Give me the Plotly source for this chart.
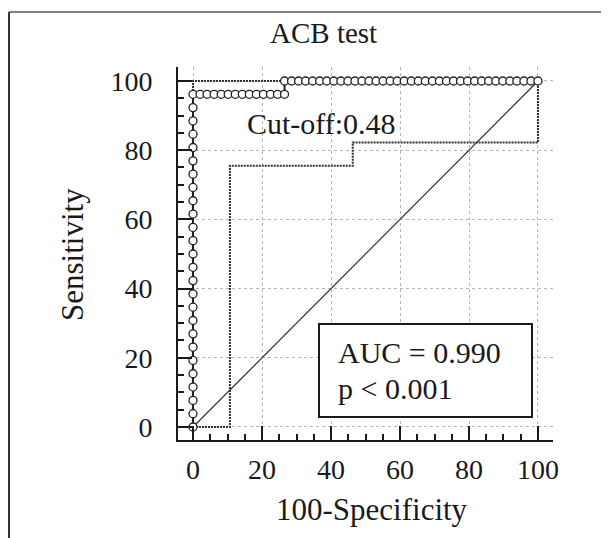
import plotly.graph_objects as go

# ---------------- data ----------------
roc_fpr = [0, 0, 0, 0, 0, 0, 0, 0, 0, 0, 0, 0, 0, 0, 0, 0, 0, 0, 0, 0, 0, 0, 0, 0, 0, 0,
           2.04, 4.08, 6.12, 8.16, 10.20, 12.24, 14.29, 16.33, 18.37, 20.41, 22.45, 24.49, 26.53,
           26.53, 28.57, 30.61, 32.65, 34.69, 36.73, 38.78, 40.82, 42.86, 44.90, 46.94, 48.98,
           51.02, 53.06, 55.10, 57.14, 59.18, 61.22, 63.27, 65.31, 67.35, 69.39, 71.43, 73.47,
           75.51, 77.55, 79.59, 81.63, 83.67, 85.71, 87.76, 89.80, 91.84, 93.88, 95.92, 97.96, 100]
roc_tpr = [0, 3.85, 7.69, 11.54, 15.38, 19.23, 23.08, 26.92, 30.77, 34.62, 38.46, 42.31, 46.15,
           50.00, 53.85, 57.69, 61.54, 65.38, 69.23, 73.08, 76.92, 80.77, 84.62, 88.46, 92.31, 96.15,
           96.15, 96.15, 96.15, 96.15, 96.15, 96.15, 96.15, 96.15, 96.15, 96.15, 96.15, 96.15, 96.15,
           100, 100, 100, 100, 100, 100, 100, 100, 100, 100, 100, 100, 100,
           100, 100, 100, 100, 100, 100, 100, 100, 100, 100, 100, 100,
           100, 100, 100, 100, 100, 100, 100, 100, 100, 100, 100, 100]
ci_lo_x = [0, 10.7, 10.7, 46.3, 46.3, 100, 100]
ci_lo_y = [0, 0, 75.5, 75.5, 82.2, 82.2, 100]
ci_hi_x = [0, 0, 100]
ci_hi_y = [0, 100, 100]
diag_x = [0, 100]
diag_y = [0, 100]
tick_vals = [0, 20, 40, 60, 80, 100]
tick_text = ["0", "20", "40", "60", "80", "100"]

title_text = "ACB test"
x_title = "100-Specificity"
y_title = "Sensitivity"
cutoff_text = "Cut-off:0.48"
auc_text = "AUC = 0.990"
p_text = "p < 0.001"

# ---------------- layout helpers ----------------
OFF = 8  # default page margin of the html body
L, R, T, B = 178 - OFF, 553 - OFF, 67 - OFF, 440 - OFF
W, H = 609 - OFF, 538 - OFF
def px(x):
    return (x - OFF - L) / (R - L)
def py(y):
    return (B - (y - OFF)) / (B - T)

FONT = "Liberation Serif"
INK = "#1a1a1a"

fig = go.Figure()
fig.add_trace(go.Scatter(x=diag_x, y=diag_y, mode="lines",
                         line=dict(color="#333333", width=1.2), hoverinfo="skip"))
fig.add_trace(go.Scatter(x=ci_lo_x, y=ci_lo_y, mode="lines",
                         line=dict(color="#333333", width=2, dash="2px,1px"), hoverinfo="skip"))
fig.add_trace(go.Scatter(x=ci_hi_x, y=ci_hi_y, mode="lines",
                         line=dict(color="#333333", width=2, dash="2px,1px"), hoverinfo="skip"))
fig.add_trace(go.Scatter(x=roc_fpr, y=roc_tpr, mode="lines+markers",
                         line=dict(color="#222222", width=2),
                         marker=dict(symbol="circle", size=8, color="white",
                                     line=dict(color="#222222", width=1.3))))

axis_common = dict(
    showline=True, linecolor=INK, linewidth=2,
    ticks="inside", ticklen=14, tickwidth=2, tickcolor=INK,
    tickvals=tick_vals, ticktext=tick_text,
    showgrid=True, gridcolor="#b5b5b5", gridwidth=1, griddash="dot",
    zeroline=False,
    tickfont=dict(family=FONT, size=28, color=INK),
    minor=dict(dtick=5, tick0=0, ticks="inside", ticklen=6, tickwidth=1.5,
               tickcolor=INK, showgrid=False),
    fixedrange=True,
)
fig.update_xaxes(range=[-4.35, 104.35], ticklabelstandoff=3, **axis_common)
fig.update_yaxes(range=[-3.76, 104.04], ticklabelstandoff=18, **axis_common)

ann = []
ann.append(dict(text=title_text, x=px(323), y=py(33), xref="paper", yref="paper",
                xanchor="center", yanchor="middle", showarrow=False,
                font=dict(family=FONT, size=29, color=INK)))
ann.append(dict(text=x_title, x=px(372), y=py(510), xref="paper", yref="paper",
                xanchor="center", yanchor="middle", showarrow=False,
                font=dict(family=FONT, size=31, color=INK)))
ann.append(dict(text=y_title, x=px(72), y=py(255), xref="paper", yref="paper",
                xanchor="center", yanchor="middle", showarrow=False, textangle=-90,
                font=dict(family=FONT, size=31, color=INK)))
ann.append(dict(text=cutoff_text, x=px(245), y=py(123), xref="paper", yref="paper",
                xanchor="left", yanchor="middle", showarrow=False,
                font=dict(family=FONT, size=30, color=INK)))
ann.append(dict(text=auc_text, x=px(336), y=py(352), xref="paper", yref="paper",
                xanchor="left", yanchor="middle", showarrow=False,
                font=dict(family=FONT, size=30, color=INK)))
ann.append(dict(text=p_text, x=px(336), y=py(388), xref="paper", yref="paper",
                xanchor="left", yanchor="middle", showarrow=False,
                font=dict(family=FONT, size=30, color=INK)))

shapes = [
    dict(type="rect", xref="paper", yref="paper", x0=px(319), x1=px(532), y0=py(417), y1=py(324),
         line=dict(color=INK, width=2), fillcolor="white", layer="above"),
    dict(type="line", xref="paper", yref="paper", x0=px(9), x1=px(620), y0=py(12), y1=py(12),
         line=dict(color="#555555", width=1.5)),
    dict(type="line", xref="paper", yref="paper", x0=px(9), x1=px(9), y0=py(12), y1=py(550),
         line=dict(color="#333333", width=2)),
]

fig.update_layout(
    width=W, height=H,
    margin=dict(l=L, r=W - R, t=T, b=H - B),
    paper_bgcolor="white", plot_bgcolor="white",
    showlegend=False,
    annotations=ann, shapes=shapes,
)
fig.write_html("out.html")
